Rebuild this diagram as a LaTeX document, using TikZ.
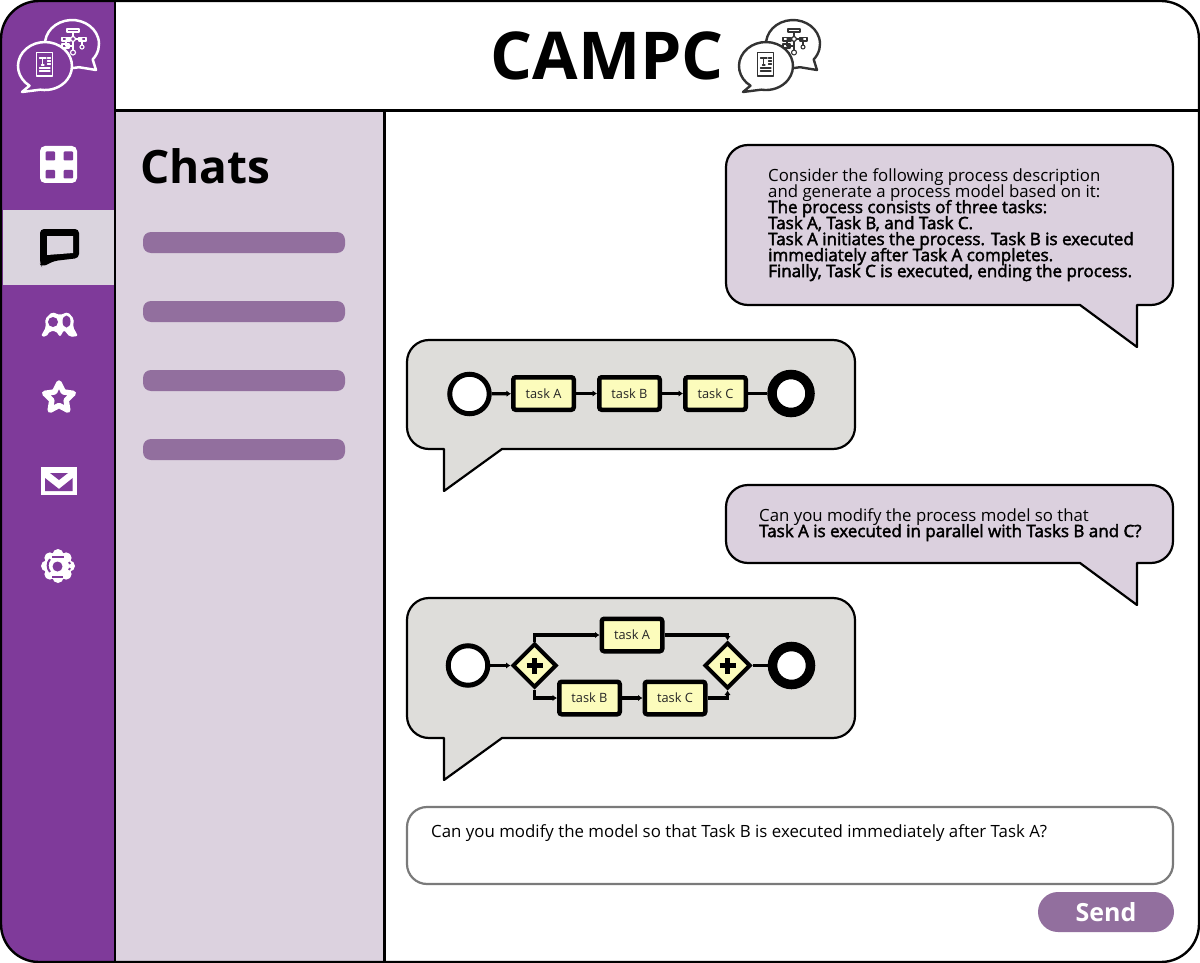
\documentclass[tikz,border=0pt]{standalone}
\usepackage{fontspec}
\setmainfont{Open Sans}
\newfontfamily\heavytext{Open Sans}[FakeBold=2.4,Scale=1.011]
\setlength{\lineskiplimit}{-100pt}
\usetikzlibrary{arrows.meta,shapes.geometric}
\definecolor{sidepurple}{HTML}{7F3A9A}
\definecolor{panel}{HTML}{DCD2DF}
\definecolor{activebg}{HTML}{DAD4DE}
\definecolor{bubblelilac}{HTML}{DBD0DE}
\definecolor{bubblegray}{HTML}{DEDDDA}
\definecolor{barpurple}{HTML}{926F9E}
\definecolor{taskyellow}{HTML}{FCFCBC}
\definecolor{inputgray}{HTML}{7A7A7A}
\definecolor{logodark}{HTML}{333333}
\tikzset{
  x=1pt,y=-1pt,
  speech/.style={draw=black,line width=2.2pt,line join=round},
  taskbox/.style={draw=black,line width=4.5pt,fill=taskyellow,rounded corners=2.5pt,minimum width=60.5pt,minimum height=32.5pt,inner sep=0pt,font=\fontsize{12.8}{14}\selectfont,text=black!85},
  startev/.style={circle,draw=black,line width=5pt,fill=white,minimum size=39.5pt,inner sep=0pt},
  endev/.style={circle,draw=black,line width=9.5pt,fill=white,minimum size=38pt,inner sep=0pt},
  gate/.style={diamond,aspect=1,draw=black,line width=4pt,fill=taskyellow,minimum size=44pt,inner sep=0pt},
  flow/.style={draw=black,line width=3.2pt,-{Latex[length=4.5pt,width=6.5pt]}},
  flowplain/.style={draw=black,line width=3.2pt},
  bar/.style={fill=barpurple,rounded corners=8pt},
  msg/.style={anchor=north west,inner sep=0pt,align=left,text=black,font=\fontsize{16.8}{16}\selectfont},
  iconline/.style={line width=#1,line cap=round,line join=round}
}
\newcommand{\campclogo}[5]{%
 \begin{scope}[shift={(#1,#2)},draw=#3]
  \draw[iconline=#4,fill=#5] (79,67.2) arc[start angle=75,end angle=400,x radius=27,y radius=24] -- (96,70) -- cycle;
  \begin{scope}[iconline=#4*0.45]
   \draw (67,29) rectangle (79,32);
   \draw (73,32) -- (73,36);
   \draw (73,36) -- (76,39) -- (73,42) -- (70,39) -- cycle;
   \draw (70,39) -- (66,39) (76,39) -- (82,39);
   \draw (62,37.5) rectangle (70,41);
   \draw (79,37.5) rectangle (86,41);
   \draw (66,41) -- (66,46) -- (73,46) (73,42) -- (73,50);
   \draw (62,44) rectangle (69,48);
   \draw (82,41) -- (82,45);
   \draw (82,47) circle[radius=2];
   \draw (73,52.5) circle[radius=2.5];
  \end{scope}
  \draw[iconline=#4,fill=#5] (29.5,85.7) arc[start angle=125,end angle=460,x radius=27,y radius=24] -- (22,92) -- cycle;
  \draw[iconline=#4*0.6] (36.5,52.5) rectangle (52.5,76);
  \begin{scope}[iconline=#4*0.5]
   \draw (39.5,58) -- (46,58) (42.7,58) -- (42.7,65) (41.5,65) -- (44,65);
   \draw (47.5,58) -- (50.5,58) (47.5,61) -- (50.5,61) (47.5,64) -- (50.5,64);
   \draw (39.5,68) -- (50,68) (39.5,71) -- (50,71);
  \end{scope}
 \end{scope}}
\begin{document}
\begin{tikzpicture}
\useasboundingbox (0,0) rectangle (1200,963);
\fill[white] (0,0) rectangle (1200,963);
\begin{scope}
 \clip[rounded corners=38pt] (1,1) rectangle (1199,962);
 \fill[white] (0,0) rectangle (1200,963);
 \fill[sidepurple] (0,0) rectangle (115,963);
 \fill[panel] (116,111) rectangle (384,963);
 \fill[activebg] (3,210) rectangle (114,285);
\end{scope}
\draw[line width=2.2pt] (115,1) -- (115,962);
\draw[line width=2.2pt] (115,110.5) -- (1199,110.5);
\draw[line width=2.2pt] (384.5,110.5) -- (384.5,962);

% logos
\campclogo{0}{0}{white}{2.5pt}{sidepurple}
\campclogo{721}{0}{logodark}{2.4pt}{white}
\node[anchor=base west,inner sep=0pt,font=\fontsize{66}{66}\selectfont\bfseries] (title) at (490.5,80) {CAMPC};

% grid icon
\fill[white,rounded corners=5pt] (40,146) rectangle (77,183);
\fill[sidepurple,rounded corners=1pt] (45.5,151.5) rectangle (55,160.5) (63.5,151.5) rectangle (73,160.5) (45.5,170) rectangle (55,178.5) (63.5,170) rectangle (73,178.5);
% chat icon
\fill[black,rounded corners=4pt] (40,229) -- (79,229) -- (79,258) -- (54,261) -- (42,267) -- (40,264) -- cycle;
\fill[activebg] (47,236) -- (73,236) -- (73,253) -- (47,255) -- cycle;
% people icon
\fill[white,rounded corners=2pt] (41,336) -- (46,327) -- (45,319) -- (52,312) -- (60,315) -- (68,312) -- (74,319) -- (73,327) -- (78,336) -- (70,337) -- (64,330) -- (60,337) -- (56,331) -- (50,331) -- (46,337) -- cycle;
\fill[sidepurple] (53,322) circle[radius=5] (66.5,321.5) ellipse[x radius=4,y radius=6];
% star icon
\begin{scope}[shift={(59,398)}]
 \draw[white,line width=5.5pt,line join=round] (-90:15) -- (-54:7.5) -- (-18:15) -- (18:7.5) -- (54:15) -- (90:7.5) -- (126:15) -- (162:7.5) -- (198:15) -- (234:7.5) -- cycle;
\end{scope}
% mail icon
\fill[white] (41,467) rectangle (77,495);
\fill[sidepurple] (50,473) -- (68,473) -- (59,480) -- cycle;
\fill[sidepurple] (45,478) -- (59,489) -- (72.7,478) -- (72.7,491) -- (45,491) -- cycle;
% flower icon
\fill[white] (58,566) circle[radius=14];
\foreach \a in {0,45,...,315} { \fill[white] (58,566) ++(\a:11.5) circle[radius=5.5]; }
\draw[sidepurple,line width=2pt] (50,572) arc[start angle=140,end angle=220,radius=10];
\draw[sidepurple,line width=2pt] (52,556.5) -- (64,556.5) (52,577) -- (63,577);
\draw[sidepurple,line width=2pt] (69,562) -- (70,564) (69,570) -- (70,568);
\fill[sidepurple] (57.5,566.5) circle[radius=5];

% chats panel
\node[anchor=base west,inner sep=0pt,font=\fontsize{46}{46}\selectfont\bfseries] (chats) at (140,183) {Chats};
\fill[bar] (143,232) rectangle (345,253);
\fill[bar] (143,301) rectangle (345,322);
\fill[bar] (143,370) rectangle (345,391);
\fill[bar] (143,439) rectangle (345,460);

% speech bubbles
\draw[speech,fill=bubblelilac] (900,145) [rounded corners=22pt] -- (1173,145) -- (1173,305) [sharp corners] -- (1137,305) -- (1137,347) -- (1080,305) [rounded corners=22pt] -- (726,305) -- (726,145) -- cycle;
\draw[speech,fill=bubblelilac] (900,485) [rounded corners=22pt] -- (1173,485) -- (1173,563) [sharp corners] -- (1137,563) -- (1137,605) -- (1080,563) [rounded corners=22pt] -- (726,563) -- (726,485) -- cycle;
\draw[speech,fill=bubblegray] (600,340) [rounded corners=22pt] -- (855,340) -- (855,449) [sharp corners] -- (502,449) -- (444,491) -- (444,449) [rounded corners=22pt] -- (407,449) -- (407,340) -- cycle;
\draw[speech,fill=bubblegray] (600,598) [rounded corners=22pt] -- (855,598) -- (855,738) [sharp corners] -- (502,738) -- (444,780) -- (444,738) [rounded corners=22pt] -- (407,738) -- (407,598) -- cycle;

% messages
\node[msg] (m1) at (768,168) {Consider the following process description\\and generate a process model based on it:\\{\heavytext The process consists of three tasks:}\\{\heavytext Task A, Task B, and Task C.}\\{\heavytext Task A initiates the process. Task B is executed}\\{\heavytext immediately after Task A completes.}\\{\heavytext Finally, Task C is executed, ending the process.}};
\node[msg] (m2) at (759,508) {Can you modify the process model so that\\{\heavytext Task A is executed in parallel with Tasks B and C?}};

% model 1
\node[startev] (s1) at (469.5,394) {};
\node[taskbox] (a1) at (543.5,393.5) {task A};
\node[taskbox] (b1) at (629.5,393.5) {task B};
\node[taskbox] (c1) at (715.5,393.5) {task C};
\node[endev] (e1) at (791,393.5) {};
\draw[flow] (s1) -- (a1);
\draw[flow] (a1) -- (b1);
\draw[flow] (b1) -- (c1);
\draw[flowplain] (c1) -- (e1);

% model 2
\node[startev] (s2) at (468,665.5) {};
\node[gate] (g1) at (534.5,665.5) {};
\node[taskbox] (a2) at (632,635) {task A};
\node[taskbox] (b2) at (589.5,698) {task B};
\node[taskbox] (c2) at (675,698) {task C};
\node[gate,minimum size=46pt] (g2) at (727.5,665.5) {};
\node[endev] (e2) at (791.5,665.5) {};
\draw[flow] (s2) -- (g1);
\draw[flow] (g1.north) |- (a2.west);
\draw[flow] (g1.south) |- (b2.west);
\draw[flow] (b2) -- (c2);
\draw[flow] (a2.east) -| (g2.north);
\draw[flow] (c2.east) -| (g2.south);
\draw[flowplain] (g2) -- (e2);
\draw[line width=4.8pt] ([xshift=-8pt]g1.center) -- ([xshift=8pt]g1.center) ([yshift=-8pt]g1.center) -- ([yshift=8pt]g1.center);
\draw[line width=4.8pt] ([xshift=-8pt]g2.center) -- ([xshift=8pt]g2.center) ([yshift=-8pt]g2.center) -- ([yshift=8pt]g2.center);

% input
\node[draw=inputgray,line width=2.2pt,fill=white,rounded corners=20pt,minimum width=766pt,minimum height=77pt,inner sep=0pt] (input) at (790,845.5) {};
\node[anchor=base west,inner sep=0pt,font=\fontsize{16.85}{18}\selectfont] (inputtext) at (431,837) {Can you modify the model so that Task B is executed immediately after Task A?};
\node[fill=barpurple,rounded corners=20pt,minimum width=136pt,minimum height=40pt,inner sep=0pt,text=white,font=\fontsize{25}{26}\selectfont\bfseries] (send) at (1106,912) {Send};

\draw[line width=2.4pt,rounded corners=38pt] (1,1) rectangle (1199,962);
\end{tikzpicture}
\end{document}
